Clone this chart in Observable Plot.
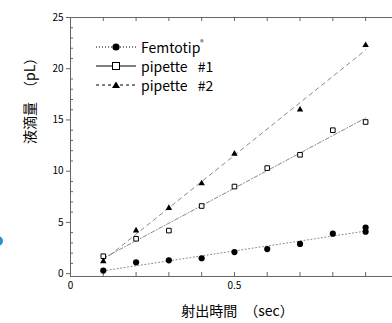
<!DOCTYPE html>
<html><head><meta charset="utf-8">
<script src="https://cdn.jsdelivr.net/npm/d3@7"></script>
<script src="https://cdn.jsdelivr.net/npm/@observablehq/plot@0.6"></script>
<style>
body{margin:0;background:#fff;}
#wrap{position:relative;width:392px;height:323px;overflow:hidden;font-family:"Noto Sans CJK JP","Noto Sans",sans-serif;}
#legend{position:absolute;left:96px;top:37px;font-size:14px;color:#000;}
#legend .row{display:flex;align-items:center;height:19px;}
#legend svg{margin-right:5px;}
#legend sup{font-size:7px;vertical-align:8px;}
#blue{position:absolute;left:-7px;top:236px;width:10px;height:10px;border-radius:50%;background:#2a90d8;}
</style></head><body><div id="wrap"><div id="blue"></div></div>
<script>
const femtoX = [0.1,0.2,0.3,0.4,0.5,0.6,0.7,0.8,0.9,0.9];
const femtoY = [0.3,1.1,1.3,1.5,2.1,2.4,2.9,3.9,4.1,4.5];
const pip1X = [0.1,0.2,0.3,0.4,0.5,0.6,0.7,0.8,0.9];
const pip1Y = [1.7,3.4,4.2,6.6,8.5,10.3,11.6,14.0,14.8];
const pip2X = [0.1,0.2,0.3,0.4,0.5,0.7,0.9];
const pip2Y = [1.2,4.2,6.4,8.8,11.7,16.0,22.3];
const seriesNames = ["Femtotip", "pipette\u2002\u00a0#1", "pipette\u2002\u00a0#2"];
const xTicks = [0,0.1,0.2,0.3,0.4,0.5,0.6,0.7,0.8,0.9];
const xTickLabels = [0, 0.5];
const yMajor = [0,5,10,15,20,25];
const yMinor = [1,2,3,4,6,7,8,9,11,12,13,14,16,17,18,19,21,22,23,24];
const xDomain = [0, 0.982];
const yDomain = [-0.28, 25];
const xTitle = "射出時間　（sec）";
const yTitle = "液滴量　（pL）";

const femto = femtoX.map((x,i)=>({x, y: femtoY[i]}));
const pip1 = pip1X.map((x,i)=>({x, y: pip1Y[i]}));
const pip2 = pip2X.map((x,i)=>({x, y: pip2Y[i]}));

const axisColor = "#666";
const lineColor = "#888";

const chart = Plot.plot({
  width: 392, height: 323,
  marginLeft: 70, marginRight: 0, marginTop: 17, marginBottom: 47,
  x: {domain: xDomain},
  y: {domain: yDomain},
  style: {fontFamily: '"Noto Sans CJK JP","Noto Sans",sans-serif', color: "#000", background: "transparent", overflow: "visible"},
  marks: [
    Plot.ruleX([xDomain[0]], {stroke: axisColor}),
    Plot.ruleY([yDomain[0]], {stroke: axisColor}),
    Plot.ruleY([yDomain[1]], {stroke: axisColor}),
    Plot.ruleX(xTicks, {x: d=>d, y1: yDomain[0], y2: yDomain[0], insetBottom: 4, stroke: axisColor}),
    Plot.ruleX(xTicks, {x: d=>d, y1: yDomain[1], y2: yDomain[1], insetTop: 4, stroke: axisColor}),
    Plot.ruleY(yMinor, {y: d=>d, x1: xDomain[0], x2: xDomain[0], insetLeft: 3, stroke: axisColor}),
    Plot.axisY({ticks: yMajor, tickSize: 4, tickPadding: 3, fontSize: 10, label: null, stroke: axisColor, fill: "#000"}),
    Plot.axisX({ticks: xTickLabels, tickSize: 0, tickPadding: 5, fontSize: 10, label: null, tickFormat: d => String(d), fill: "#000"}),
    Plot.text([xTitle], {text: d=>d, frameAnchor: "bottom", dy: 39, dx: 6, fontSize: 14, fill: "#000"}),
    Plot.text([yTitle], {text: d=>d, frameAnchor: "left", dx: -40, dy: -3, rotate: -90, fontSize: 14, fill: "#000"}),
    Plot.linearRegressionY(femto, {x: "x", y: "y", ci: 0, stroke: lineColor, strokeWidth: 1, strokeDasharray: "1,2.5"}),
    Plot.linearRegressionY(pip1, {x: "x", y: "y", ci: 0, stroke: lineColor, strokeWidth: 1, strokeDasharray: "4,2,1,2"}),
    Plot.linearRegressionY(pip2, {x: "x", y: "y", ci: 0, stroke: lineColor, strokeWidth: 1, strokeDasharray: "4,4"}),
    Plot.dot(femto, {x: "x", y: "y", symbol: "circle", r: 3.1, fill: "#000"}),
    Plot.dot(pip1, {x: "x", y: "y", symbol: "square", r: 2.6, fill: "#fff", stroke: "#000", strokeWidth: 1}),
    Plot.dot(pip2, {x: "x", y: "y", symbol: "triangle", r: 2.4, fill: "#000"})
  ]
});
const wrap = document.getElementById("wrap");
wrap.appendChild(chart);

// legend
const legendDefs = [
  {name: seriesNames[0], dash: "1,2", marker: '<circle cx="20" cy="6" r="3.6" fill="#000"/>', sup: true},
  {name: seriesNames[1], dash: null, marker: '<rect x="16.5" y="2.5" width="7" height="7" fill="#fff" stroke="#000"/>'},
  {name: seriesNames[2], dash: "3,3", marker: '<path d="M20,2.5 L24,9 L16,9Z" fill="#000"/>'}
];
const legend = document.createElement("div");
legend.id = "legend";
legend.innerHTML = legendDefs.map(d =>
  `<div class="row"><svg width="40" height="12"><line x1="0" x2="40" y1="6" y2="6" stroke="#000" stroke-width="1" ${d.dash ? `stroke-dasharray="${d.dash}"` : ""}/>${d.marker}</svg><span>${d.name}${d.sup ? "<sup>®</sup>" : ""}</span></div>`
).join("");
wrap.appendChild(legend);
</script>
</body></html>
